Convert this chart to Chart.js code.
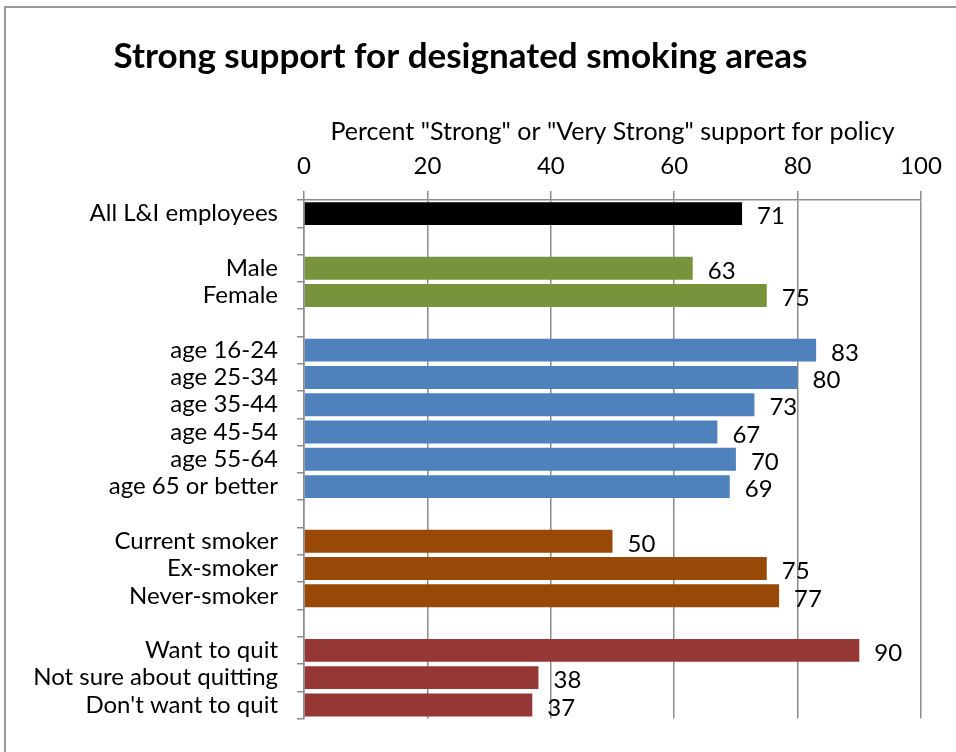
<!DOCTYPE html>
<html>
<head>
<meta charset="utf-8">
<script src="https://cdn.jsdelivr.net/npm/chart.js"></script>
<style>
  html, body { margin: 0; padding: 0; background: #fff; overflow: hidden; }
  #wrap { position: relative; width: 956px; height: 752px; }
  #frame { position: absolute; left: 4px; top: 6px; width: 1000px; height: 800px;
           border-left: 2px solid #9a9a9a; border-top: 2px solid #9a9a9a; }
  #chart { position: absolute; left: 0; top: 0; }
</style>
</head>
<body>
<div id="wrap">
  <div id="frame"></div>
  <canvas id="chart" width="956" height="752"></canvas>
</div>
<script>
// groups are separated by blank rows
const categories = [
  "All L&I employees", "",
  "Male", "Female", "",
  "age 16-24", "age 25-34", "age 35-44", "age 45-54", "age 55-64", "age 65 or better", "",
  "Current smoker", "Ex-smoker", "Never-smoker", "",
  "Want to quit", "Not sure about quitting", "Don't want to quit"
];
const support = [71, null, 63, 75, null, 83, 80, 73, 67, 70, 69, null, 50, 75, 77, null, 90, 38, 37];
const xTicks = [0, 20, 40, 60, 80, 100];

const BLACK = "#000000", GREEN = "#77933C", BLUE = "#4F81BD", BROWN = "#984807", RED = "#953735";
const barColors = [
  BLACK, null,
  GREEN, GREEN, null,
  BLUE, BLUE, BLUE, BLUE, BLUE, BLUE, null,
  BROWN, BROWN, BROWN, null,
  RED, RED, RED
];

const FONT = "Lato, 'Open Sans', sans-serif";
const TEXT_SIZE = 24;
const GRID = "#8c8c8c";

// value printed to the right of each bar
const valueLabels = {
  id: "valueLabels",
  afterDatasetsDraw(chart) {
    const ctx = chart.ctx;
    const meta = chart.getDatasetMeta(0);
    ctx.save();
    ctx.font = TEXT_SIZE + "px " + FONT;
    ctx.fillStyle = "#000";
    ctx.textAlign = "left";
    ctx.textBaseline = "middle";
    meta.data.forEach((bar, i) => {
      const v = support[i];
      if (v == null) return;
      ctx.fillText(String(v), bar.x + 15, bar.y + 3);
    });
    ctx.restore();
  }
};

new Chart(document.getElementById("chart"), {
  type: "bar",
  data: {
    labels: categories,
    datasets: [{
      data: support,
      backgroundColor: barColors,
      barPercentage: 0.84,
      categoryPercentage: 1.0
    }]
  },
  options: {
    indexAxis: "y",
    responsive: false,
    animation: false,
    layout: { padding: { left: 0, right: 35, top: 0, bottom: 24 } },
    plugins: {
      legend: { display: false },
      tooltip: { enabled: false },
      title: {
        display: true,
        text: "Strong support for designated smoking areas",
        color: "#000",
        font: { family: FONT, size: 35, weight: "bold", lineHeight: 1.2 },
        padding: { top: 36, bottom: 12 }
      }
    },
    scales: {
      x: {
        position: "top",
        min: 0,
        max: 100,
        afterBuildTicks(scale) {
          scale.ticks = xTicks.map(v => ({ value: v }));
        },
        afterFit(scale) { scale.height = 110; },
        border: { display: true, color: GRID, width: 1.5 },
        grid: { color: GRID, lineWidth: 1.5, tickLength: 9, drawTicks: true },
        ticks: { color: "#000", font: { family: FONT, size: TEXT_SIZE }, padding: 10 },
        title: {
          display: true,
          text: "Percent \"Strong\" or \"Very Strong\" support for policy",
          color: "#000",
          font: { family: FONT, size: 25, lineHeight: 1.2 },
          padding: { top: 27, bottom: 0 }
        }
      },
      y: {
        afterFit(scale) { scale.width = 304; },
        border: { display: true, color: GRID, width: 1.5 },
        grid: { drawOnChartArea: false, drawTicks: true, tickLength: 7, color: GRID, lineWidth: 1.5 },
        ticks: {
          color: "#000",
          font: { family: FONT, size: TEXT_SIZE },
          padding: 19,
          autoSkip: false
        }
      }
    }
  },
  plugins: [valueLabels]
});
</script>
</body>
</html>
